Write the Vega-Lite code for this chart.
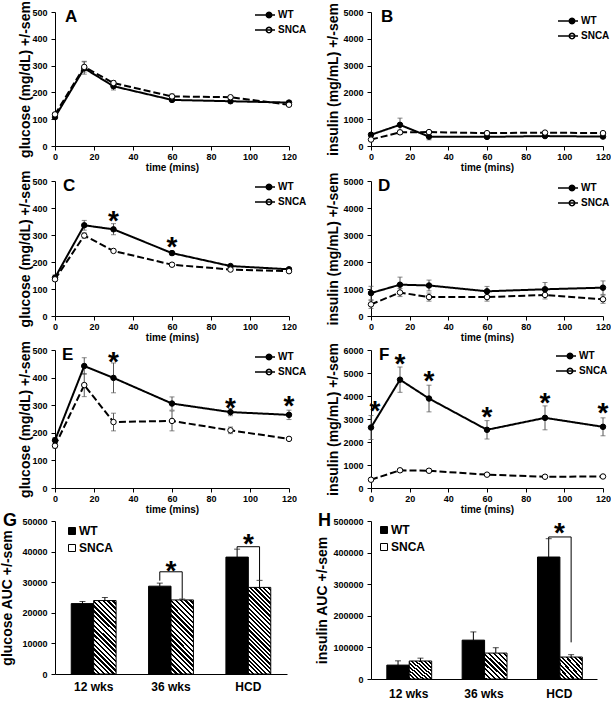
{
"$schema":"https://vega.github.io/schema/vega-lite/v6.json",
"background":"#ffffff",
"padding":{"left":0,"top":0,"right":0,"bottom":0},
"config":{
 "font":"Liberation Sans",
 "view":{"stroke":null},
 "axis":{"domainColor":"#000","tickColor":"#000","labelColor":"#000","titleColor":"#000","labelFont":"Liberation Sans","titleFont":"Liberation Sans","labelFontWeight":"bold","labelFontSize":9,"titleFontWeight":"bold","grid":false,"tickSize":4,"labelPadding":4,"labelFlush":false,"labelOverlap":false,"domainWidth":1,"tickWidth":1},
 "axisY":{"titleFontSize":14},
 "axisX":{"titleFontSize":10,"titlePadding":1,"labelPadding":2},
 "legend":{"labelFont":"Liberation Sans","labelColor":"#000"},
 "title":{"font":"Liberation Sans","color":"#000"}
},
"datasets":{
 "A":[
  {"grp":"WT","t":0,"v":108,"lo":100,"hi":116},{"grp":"WT","t":15,"v":290,"lo":268,"hi":314},{"grp":"WT","t":30,"v":223,"lo":209,"hi":238},{"grp":"WT","t":60,"v":172,"lo":165,"hi":179},{"grp":"WT","t":90,"v":167,"lo":161,"hi":173},{"grp":"WT","t":120,"v":162,"lo":155,"hi":170},
  {"grp":"SNCA","t":0,"v":118,"lo":112,"hi":124},{"grp":"SNCA","t":15,"v":295,"lo":276,"hi":316},{"grp":"SNCA","t":30,"v":235,"lo":226,"hi":244},{"grp":"SNCA","t":60,"v":185,"lo":177,"hi":194},{"grp":"SNCA","t":90,"v":182,"lo":176,"hi":188},{"grp":"SNCA","t":120,"v":154,"lo":148,"hi":160}],
 "B":[
  {"grp":"WT","t":0,"v":420,"lo":360,"hi":480},{"grp":"WT","t":15,"v":790,"lo":540,"hi":1040},{"grp":"WT","t":30,"v":350,"lo":230,"hi":470},{"grp":"WT","t":60,"v":340,"lo":290,"hi":390},{"grp":"WT","t":90,"v":370,"lo":320,"hi":420},{"grp":"WT","t":120,"v":350,"lo":300,"hi":400},
  {"grp":"SNCA","t":0,"v":240,"lo":190,"hi":290},{"grp":"SNCA","t":15,"v":510,"lo":430,"hi":590},{"grp":"SNCA","t":30,"v":520,"lo":470,"hi":570},{"grp":"SNCA","t":60,"v":480,"lo":440,"hi":520},{"grp":"SNCA","t":90,"v":500,"lo":460,"hi":540},{"grp":"SNCA","t":120,"v":480,"lo":440,"hi":520}],
 "C":[
  {"grp":"WT","t":0,"v":142,"lo":132,"hi":152},{"grp":"WT","t":15,"v":336,"lo":318,"hi":354},{"grp":"WT","t":30,"v":321,"lo":301,"hi":342},{"grp":"WT","t":60,"v":233,"lo":225,"hi":241},{"grp":"WT","t":90,"v":185,"lo":179,"hi":191},{"grp":"WT","t":120,"v":173,"lo":167,"hi":179},
  {"grp":"SNCA","t":0,"v":136,"lo":130,"hi":142},{"grp":"SNCA","t":15,"v":298,"lo":288,"hi":308},{"grp":"SNCA","t":30,"v":241,"lo":235,"hi":247},{"grp":"SNCA","t":60,"v":190,"lo":184,"hi":196},{"grp":"SNCA","t":90,"v":172,"lo":167,"hi":177},{"grp":"SNCA","t":120,"v":166,"lo":161,"hi":171}],
 "D":[
  {"grp":"WT","t":0,"v":850,"lo":600,"hi":1100},{"grp":"WT","t":15,"v":1160,"lo":880,"hi":1440},{"grp":"WT","t":30,"v":1130,"lo":930,"hi":1330},{"grp":"WT","t":60,"v":915,"lo":735,"hi":1095},{"grp":"WT","t":90,"v":990,"lo":740,"hi":1240},{"grp":"WT","t":120,"v":1050,"lo":800,"hi":1300},
  {"grp":"SNCA","t":0,"v":430,"lo":280,"hi":580},{"grp":"SNCA","t":15,"v":870,"lo":720,"hi":1020},{"grp":"SNCA","t":30,"v":700,"lo":550,"hi":850},{"grp":"SNCA","t":60,"v":700,"lo":550,"hi":850},{"grp":"SNCA","t":90,"v":780,"lo":630,"hi":930},{"grp":"SNCA","t":120,"v":620,"lo":470,"hi":770}],
 "E":[
  {"grp":"WT","t":0,"v":173,"lo":163,"hi":183},{"grp":"WT","t":15,"v":442,"lo":412,"hi":472},{"grp":"WT","t":30,"v":399,"lo":345,"hi":453},{"grp":"WT","t":60,"v":306,"lo":282,"hi":330},{"grp":"WT","t":90,"v":275,"lo":262,"hi":288},{"grp":"WT","t":120,"v":265,"lo":248,"hi":282},
  {"grp":"SNCA","t":0,"v":153,"lo":145,"hi":161},{"grp":"SNCA","t":15,"v":373,"lo":331,"hi":415},{"grp":"SNCA","t":30,"v":239,"lo":207,"hi":271},{"grp":"SNCA","t":60,"v":243,"lo":207,"hi":279},{"grp":"SNCA","t":90,"v":209,"lo":197,"hi":221},{"grp":"SNCA","t":120,"v":178,"lo":173,"hi":183}],
 "F":[
  {"grp":"WT","t":0,"v":2630,"lo":2110,"hi":3150},{"grp":"WT","t":15,"v":4710,"lo":4160,"hi":5260},{"grp":"WT","t":30,"v":3890,"lo":3310,"hi":4470},{"grp":"WT","t":60,"v":2530,"lo":2130,"hi":2930},{"grp":"WT","t":90,"v":3050,"lo":2530,"hi":3570},{"grp":"WT","t":120,"v":2660,"lo":2270,"hi":3050},
  {"grp":"SNCA","t":0,"v":360,"lo":300,"hi":420},{"grp":"SNCA","t":15,"v":770,"lo":690,"hi":850},{"grp":"SNCA","t":30,"v":750,"lo":670,"hi":830},{"grp":"SNCA","t":60,"v":580,"lo":530,"hi":630},{"grp":"SNCA","t":90,"v":490,"lo":450,"hi":530},{"grp":"SNCA","t":120,"v":500,"lo":460,"hi":540}],
 "sC":[{"t":30,"y":374},{"t":60,"y":277}],
 "sE":[{"t":30,"y":480},{"t":90,"y":312},{"t":120,"y":318}],
 "sF":[{"t":2,"y":3600},{"t":15,"y":5670},{"t":30,"y":4900},{"t":60,"y":3350},{"t":90,"y":3975},{"t":120,"y":3530}],
 "G":[{"cat":"12 wks","grp":"WT","v":23000,"hi":23700},{"cat":"12 wks","grp":"SNCA","v":24000,"hi":25000},{"cat":"36 wks","grp":"WT","v":28700,"hi":29700},{"cat":"36 wks","grp":"SNCA","v":24200,"hi":24500},{"cat":"HCD","grp":"WT","v":38200,"hi":40800},{"cat":"HCD","grp":"SNCA","v":28300,"hi":30600}],
 "H":[{"cat":"12 wks","grp":"WT","v":44000,"hi":57500},{"cat":"12 wks","grp":"SNCA","v":57000,"hi":66000},{"cat":"36 wks","grp":"WT","v":123000,"hi":149000},{"cat":"36 wks","grp":"SNCA","v":82000,"hi":99000},{"cat":"HCD","grp":"WT","v":386000,"hi":444000},{"cat":"HCD","grp":"SNCA","v":69500,"hi":77000}],
 "bG":[{"b":1,"o":1,"cat":"36 wks","grp":"WT","y":30500},{"b":1,"o":2,"cat":"36 wks","grp":"WT","y":33400},{"b":1,"o":3,"cat":"36 wks","grp":"SNCA","y":33400},{"b":1,"o":4,"cat":"36 wks","grp":"SNCA","y":24600},{"b":2,"o":1,"cat":"HCD","grp":"WT","y":40900},{"b":2,"o":2,"cat":"HCD","grp":"WT","y":41600},{"b":2,"o":3,"cat":"HCD","grp":"SNCA","y":41600},{"b":2,"o":4,"cat":"HCD","grp":"SNCA","y":30700}],
 "bH":[{"b":1,"o":1,"cat":"HCD","grp":"WT","y":444000},{"b":1,"o":2,"cat":"HCD","grp":"WT","y":449500},{"b":1,"o":3,"cat":"HCD","grp":"SNCA","y":449500},{"b":1,"o":4,"cat":"HCD","grp":"SNCA","y":116000}],
 "tG":[{"cat":"36 wks","y":35600},{"cat":"HCD","y":44300}],
 "tH":[{"cat":"HCD","y":481000}]
},
"columns":2,
"align":"each",
"spacing":{"row":-2,"column":8},
"resolve":{"scale":{"fill":"independent"},"legend":{"fill":"independent"}},
"concat":[
{
 "width":234,"height":134,"data":{"name":"A"},
 "title":{"text":"A","anchor":"start","frame":"group","dx":10,"offset":-25,"fontSize":17,"fontWeight":"bold","color":"#000"},
 "encoding":{
  "x":{"field":"t","type":"quantitative","scale":{"domain":[0,120],"nice":false},"axis":{"values":[0,20,40,60,80,100,120],"title":"time (mins)"}},
  "y":{"field":"v","type":"quantitative","scale":{"domain":[0,500],"nice":false},"axis":{"values":[0,100,200,300,400,500],"format":"d","labelOverlap":false,"title":"glucose (mg/dL) +/-sem","titlePadding":-1}}},
 "layer":[
  {"mark":{"type":"rule","color":"#555","strokeWidth":1},"encoding":{"y":{"field":"lo","type":"quantitative","axis":{"values":[0,100,200,300,400,500],"format":"d","labelOverlap":false,"title":"glucose (mg/dL) +/-sem","titlePadding":-1}},"y2":{"field":"hi"}}},
  {"mark":{"type":"tick","orient":"horizontal","color":"#555","size":5,"thickness":1},"encoding":{"y":{"field":"lo","type":"quantitative","axis":{"values":[0,100,200,300,400,500],"format":"d","labelOverlap":false,"title":"glucose (mg/dL) +/-sem","titlePadding":-1}}}},
  {"mark":{"type":"tick","orient":"horizontal","color":"#555","size":5,"thickness":1},"encoding":{"y":{"field":"hi","type":"quantitative","axis":{"values":[0,100,200,300,400,500],"format":"d","labelOverlap":false,"title":"glucose (mg/dL) +/-sem","titlePadding":-1}}}},
  {"mark":{"type":"line","color":"#000","strokeWidth":2},"encoding":{"detail":{"field":"grp","type":"nominal"},"strokeDash":{"condition":{"test":"datum.grp==='SNCA'","value":[7,3]},"value":[1,0]}}},
  {"mark":{"type":"point","shape":"circle","size":30,"filled":true,"stroke":"#000","strokeWidth":1,"opacity":1},"encoding":{"fill":{"field":"grp","type":"nominal","scale":{"domain":["WT","SNCA"],"range":["#000","#fff"]},"legend":{"orient":"none","legendX":208,"legendY":-3,"title":null,"padding":0,"symbolSize":100,"symbolStrokeColor":"#000","symbolStrokeWidth":1.5,"symbolOpacity":1,"labelFontSize":10,"labelFontWeight":"bold","labelOffset":3,"rowPadding":3,"encode":{"symbols":{"update":{"stroke":{"value":"#000"},"shape":{"condition":{"test":"datum.value==='SNCA'","value":"M-2.8,0H-2.1M-1.6,0H-0.55M0.55,0H1.2M0.55,0L0.48,0.28L0.28,0.48L0,0.55L-0.28,0.48L-0.48,0.28L-0.55,0L-0.48,-0.28L-0.28,-0.48L0,-0.55L0.28,-0.48L0.48,-0.28Z"},"value":"M-2.8,0H1.2M0.55,0L0.48,0.28L0.28,0.48L0,0.55L-0.28,0.48L-0.48,0.28L-0.55,0L-0.48,-0.28L-0.28,-0.48L0,-0.55L0.28,-0.48L0.48,-0.28Z"}}}}}}}}
 ]
},
{
 "width":232,"height":134,"data":{"name":"B"},
 "title":{"text":"B","anchor":"start","frame":"group","dx":10,"offset":-23,"fontSize":17,"fontWeight":"bold","color":"#000"},
 "encoding":{
  "x":{"field":"t","type":"quantitative","scale":{"domain":[0,120],"nice":false},"axis":{"values":[0,20,40,60,80,100,120],"title":"time (mins)"}},
  "y":{"field":"v","type":"quantitative","scale":{"domain":[0,5000],"nice":false},"axis":{"values":[0,1000,2000,3000,4000,5000],"format":"d","labelOverlap":false,"title":"insulin (mg/mL) +/-sem","titlePadding":2}}},
 "layer":[
  {"mark":{"type":"rule","color":"#555","strokeWidth":1},"encoding":{"y":{"field":"lo","type":"quantitative","axis":{"values":[0,1000,2000,3000,4000,5000],"format":"d","labelOverlap":false,"title":"insulin (mg/mL) +/-sem","titlePadding":2}},"y2":{"field":"hi"}}},
  {"mark":{"type":"tick","orient":"horizontal","color":"#555","size":5,"thickness":1},"encoding":{"y":{"field":"lo","type":"quantitative","axis":{"values":[0,1000,2000,3000,4000,5000],"format":"d","labelOverlap":false,"title":"insulin (mg/mL) +/-sem","titlePadding":2}}}},
  {"mark":{"type":"tick","orient":"horizontal","color":"#555","size":5,"thickness":1},"encoding":{"y":{"field":"hi","type":"quantitative","axis":{"values":[0,1000,2000,3000,4000,5000],"format":"d","labelOverlap":false,"title":"insulin (mg/mL) +/-sem","titlePadding":2}}}},
  {"mark":{"type":"line","color":"#000","strokeWidth":2},"encoding":{"detail":{"field":"grp","type":"nominal"},"strokeDash":{"condition":{"test":"datum.grp==='SNCA'","value":[7,3]},"value":[1,0]}}},
  {"mark":{"type":"point","shape":"circle","size":30,"filled":true,"stroke":"#000","strokeWidth":1,"opacity":1},"encoding":{"fill":{"field":"grp","type":"nominal","scale":{"domain":["WT","SNCA"],"range":["#000","#fff"]},"legend":{"orient":"none","legendX":195,"legendY":3,"title":null,"padding":0,"symbolSize":100,"symbolStrokeColor":"#000","symbolStrokeWidth":1.5,"symbolOpacity":1,"labelFontSize":10,"labelFontWeight":"bold","labelOffset":3,"rowPadding":3,"encode":{"symbols":{"update":{"stroke":{"value":"#000"},"shape":{"condition":{"test":"datum.value==='SNCA'","value":"M-2.8,0H-2.1M-1.6,0H-0.55M0.55,0H1.2M0.55,0L0.48,0.28L0.28,0.48L0,0.55L-0.28,0.48L-0.48,0.28L-0.55,0L-0.48,-0.28L-0.28,-0.48L0,-0.55L0.28,-0.48L0.48,-0.28Z"},"value":"M-2.8,0H1.2M0.55,0L0.48,0.28L0.28,0.48L0,0.55L-0.28,0.48L-0.48,0.28L-0.55,0L-0.48,-0.28L-0.28,-0.48L0,-0.55L0.28,-0.48L0.48,-0.28Z"}}}}}}}}
 ]
},
{
 "width":234,"height":135,"data":{"name":"C"},
 "title":{"text":"C","anchor":"start","frame":"group","dx":8,"offset":-25,"fontSize":17,"fontWeight":"bold","color":"#000"},
 "encoding":{
  "x":{"field":"t","type":"quantitative","scale":{"domain":[0,120],"nice":false},"axis":{"values":[0,20,40,60,80,100,120],"title":"time (mins)"}},
  "y":{"field":"v","type":"quantitative","scale":{"domain":[0,500],"nice":false},"axis":{"values":[0,100,200,300,400,500],"format":"d","labelOverlap":false,"title":"glucose (mg/dL) +/-sem","titlePadding":-1}}},
 "layer":[
  {"mark":{"type":"rule","color":"#555","strokeWidth":1},"encoding":{"y":{"field":"lo","type":"quantitative","axis":{"values":[0,100,200,300,400,500],"format":"d","labelOverlap":false,"title":"glucose (mg/dL) +/-sem","titlePadding":-1}},"y2":{"field":"hi"}}},
  {"mark":{"type":"tick","orient":"horizontal","color":"#555","size":5,"thickness":1},"encoding":{"y":{"field":"lo","type":"quantitative","axis":{"values":[0,100,200,300,400,500],"format":"d","labelOverlap":false,"title":"glucose (mg/dL) +/-sem","titlePadding":-1}}}},
  {"mark":{"type":"tick","orient":"horizontal","color":"#555","size":5,"thickness":1},"encoding":{"y":{"field":"hi","type":"quantitative","axis":{"values":[0,100,200,300,400,500],"format":"d","labelOverlap":false,"title":"glucose (mg/dL) +/-sem","titlePadding":-1}}}},
  {"mark":{"type":"line","color":"#000","strokeWidth":2},"encoding":{"detail":{"field":"grp","type":"nominal"},"strokeDash":{"condition":{"test":"datum.grp==='SNCA'","value":[7,3]},"value":[1,0]}}},
  {"mark":{"type":"point","shape":"circle","size":30,"filled":true,"stroke":"#000","strokeWidth":1,"opacity":1},"encoding":{"fill":{"field":"grp","type":"nominal","scale":{"domain":["WT","SNCA"],"range":["#000","#fff"]},"legend":{"orient":"none","legendX":208,"legendY":0,"title":null,"padding":0,"symbolSize":100,"symbolStrokeColor":"#000","symbolStrokeWidth":1.5,"symbolOpacity":1,"labelFontSize":10,"labelFontWeight":"bold","labelOffset":3,"rowPadding":3,"encode":{"symbols":{"update":{"stroke":{"value":"#000"},"shape":{"condition":{"test":"datum.value==='SNCA'","value":"M-2.8,0H-2.1M-1.6,0H-0.55M0.55,0H1.2M0.55,0L0.48,0.28L0.28,0.48L0,0.55L-0.28,0.48L-0.48,0.28L-0.55,0L-0.48,-0.28L-0.28,-0.48L0,-0.55L0.28,-0.48L0.48,-0.28Z"},"value":"M-2.8,0H1.2M0.55,0L0.48,0.28L0.28,0.48L0,0.55L-0.28,0.48L-0.48,0.28L-0.55,0L-0.48,-0.28L-0.28,-0.48L0,-0.55L0.28,-0.48L0.48,-0.28Z"}}}}}}}},
  {"data":{"name":"sC"},"mark":{"type":"text","text":"*","fontSize":28,"fontWeight":"bold","baseline":"middle","dy":7,"color":"#000"},"encoding":{"y":{"field":"y","type":"quantitative","axis":{"values":[0,100,200,300,400,500],"format":"d","labelOverlap":false,"title":"glucose (mg/dL) +/-sem","titlePadding":-1}}}}
 ]
},
{
 "width":232,"height":135,"data":{"name":"D"},
 "title":{"text":"D","anchor":"start","frame":"group","dx":7,"offset":-23,"fontSize":17,"fontWeight":"bold","color":"#000"},
 "encoding":{
  "x":{"field":"t","type":"quantitative","scale":{"domain":[0,120],"nice":false},"axis":{"values":[0,20,40,60,80,100,120],"title":"time (mins)"}},
  "y":{"field":"v","type":"quantitative","scale":{"domain":[0,5000],"nice":false},"axis":{"values":[0,1000,2000,3000,4000,5000],"format":"d","labelOverlap":false,"title":"insulin (mg/mL) +/-sem","titlePadding":2}}},
 "layer":[
  {"mark":{"type":"rule","color":"#555","strokeWidth":1},"encoding":{"y":{"field":"lo","type":"quantitative","axis":{"values":[0,1000,2000,3000,4000,5000],"format":"d","labelOverlap":false,"title":"insulin (mg/mL) +/-sem","titlePadding":2}},"y2":{"field":"hi"}}},
  {"mark":{"type":"tick","orient":"horizontal","color":"#555","size":5,"thickness":1},"encoding":{"y":{"field":"lo","type":"quantitative","axis":{"values":[0,1000,2000,3000,4000,5000],"format":"d","labelOverlap":false,"title":"insulin (mg/mL) +/-sem","titlePadding":2}}}},
  {"mark":{"type":"tick","orient":"horizontal","color":"#555","size":5,"thickness":1},"encoding":{"y":{"field":"hi","type":"quantitative","axis":{"values":[0,1000,2000,3000,4000,5000],"format":"d","labelOverlap":false,"title":"insulin (mg/mL) +/-sem","titlePadding":2}}}},
  {"mark":{"type":"line","color":"#000","strokeWidth":2},"encoding":{"detail":{"field":"grp","type":"nominal"},"strokeDash":{"condition":{"test":"datum.grp==='SNCA'","value":[7,3]},"value":[1,0]}}},
  {"mark":{"type":"point","shape":"circle","size":30,"filled":true,"stroke":"#000","strokeWidth":1,"opacity":1},"encoding":{"fill":{"field":"grp","type":"nominal","scale":{"domain":["WT","SNCA"],"range":["#000","#fff"]},"legend":{"orient":"none","legendX":195,"legendY":1,"title":null,"padding":0,"symbolSize":100,"symbolStrokeColor":"#000","symbolStrokeWidth":1.5,"symbolOpacity":1,"labelFontSize":10,"labelFontWeight":"bold","labelOffset":3,"rowPadding":3,"encode":{"symbols":{"update":{"stroke":{"value":"#000"},"shape":{"condition":{"test":"datum.value==='SNCA'","value":"M-2.8,0H-2.1M-1.6,0H-0.55M0.55,0H1.2M0.55,0L0.48,0.28L0.28,0.48L0,0.55L-0.28,0.48L-0.48,0.28L-0.55,0L-0.48,-0.28L-0.28,-0.48L0,-0.55L0.28,-0.48L0.48,-0.28Z"},"value":"M-2.8,0H1.2M0.55,0L0.48,0.28L0.28,0.48L0,0.55L-0.28,0.48L-0.48,0.28L-0.55,0L-0.48,-0.28L-0.28,-0.48L0,-0.55L0.28,-0.48L0.48,-0.28Z"}}}}}}}}
 ]
},
{
 "width":234,"height":138,"data":{"name":"E"},
 "title":{"text":"E","anchor":"start","frame":"group","dx":7,"offset":-23,"fontSize":17,"fontWeight":"bold","color":"#000"},
 "encoding":{
  "x":{"field":"t","type":"quantitative","scale":{"domain":[0,120],"nice":false},"axis":{"values":[0,20,40,60,80,100,120],"title":"time (mins)"}},
  "y":{"field":"v","type":"quantitative","scale":{"domain":[0,500],"nice":false},"axis":{"values":[0,100,200,300,400,500],"format":"d","labelOverlap":false,"title":"glucose (mg/dL) +/-sem","titlePadding":-1}}},
 "layer":[
  {"mark":{"type":"rule","color":"#555","strokeWidth":1},"encoding":{"y":{"field":"lo","type":"quantitative","axis":{"values":[0,100,200,300,400,500],"format":"d","labelOverlap":false,"title":"glucose (mg/dL) +/-sem","titlePadding":-1}},"y2":{"field":"hi"}}},
  {"mark":{"type":"tick","orient":"horizontal","color":"#555","size":5,"thickness":1},"encoding":{"y":{"field":"lo","type":"quantitative","axis":{"values":[0,100,200,300,400,500],"format":"d","labelOverlap":false,"title":"glucose (mg/dL) +/-sem","titlePadding":-1}}}},
  {"mark":{"type":"tick","orient":"horizontal","color":"#555","size":5,"thickness":1},"encoding":{"y":{"field":"hi","type":"quantitative","axis":{"values":[0,100,200,300,400,500],"format":"d","labelOverlap":false,"title":"glucose (mg/dL) +/-sem","titlePadding":-1}}}},
  {"mark":{"type":"line","color":"#000","strokeWidth":2},"encoding":{"detail":{"field":"grp","type":"nominal"},"strokeDash":{"condition":{"test":"datum.grp==='SNCA'","value":[7,3]},"value":[1,0]}}},
  {"mark":{"type":"point","shape":"circle","size":30,"filled":true,"stroke":"#000","strokeWidth":1,"opacity":1},"encoding":{"fill":{"field":"grp","type":"nominal","scale":{"domain":["WT","SNCA"],"range":["#000","#fff"]},"legend":{"orient":"none","legendX":208,"legendY":1,"title":null,"padding":0,"symbolSize":100,"symbolStrokeColor":"#000","symbolStrokeWidth":1.5,"symbolOpacity":1,"labelFontSize":10,"labelFontWeight":"bold","labelOffset":3,"rowPadding":3,"encode":{"symbols":{"update":{"stroke":{"value":"#000"},"shape":{"condition":{"test":"datum.value==='SNCA'","value":"M-2.8,0H-2.1M-1.6,0H-0.55M0.55,0H1.2M0.55,0L0.48,0.28L0.28,0.48L0,0.55L-0.28,0.48L-0.48,0.28L-0.55,0L-0.48,-0.28L-0.28,-0.48L0,-0.55L0.28,-0.48L0.48,-0.28Z"},"value":"M-2.8,0H1.2M0.55,0L0.48,0.28L0.28,0.48L0,0.55L-0.28,0.48L-0.48,0.28L-0.55,0L-0.48,-0.28L-0.28,-0.48L0,-0.55L0.28,-0.48L0.48,-0.28Z"}}}}}}}},
  {"data":{"name":"sE"},"mark":{"type":"text","text":"*","fontSize":28,"fontWeight":"bold","baseline":"middle","dy":7,"color":"#000"},"encoding":{"y":{"field":"y","type":"quantitative","axis":{"values":[0,100,200,300,400,500],"format":"d","labelOverlap":false,"title":"glucose (mg/dL) +/-sem","titlePadding":-1}}}}
 ]
},
{
 "width":232,"height":138,"data":{"name":"F"},
 "title":{"text":"F","anchor":"start","frame":"group","dx":8,"offset":-21,"fontSize":17,"fontWeight":"bold","color":"#000"},
 "encoding":{
  "x":{"field":"t","type":"quantitative","scale":{"domain":[0,120],"nice":false},"axis":{"values":[0,20,40,60,80,100,120],"title":"time (mins)"}},
  "y":{"field":"v","type":"quantitative","scale":{"domain":[0,6000],"nice":false},"axis":{"values":[0,1000,2000,3000,4000,5000,6000],"format":"d","labelOverlap":false,"title":"insulin (mg/mL) +/-sem","titlePadding":2}}},
 "layer":[
  {"mark":{"type":"rule","color":"#555","strokeWidth":1},"encoding":{"y":{"field":"lo","type":"quantitative","axis":{"values":[0,1000,2000,3000,4000,5000,6000],"format":"d","labelOverlap":false,"title":"insulin (mg/mL) +/-sem","titlePadding":2}},"y2":{"field":"hi"}}},
  {"mark":{"type":"tick","orient":"horizontal","color":"#555","size":5,"thickness":1},"encoding":{"y":{"field":"lo","type":"quantitative","axis":{"values":[0,1000,2000,3000,4000,5000,6000],"format":"d","labelOverlap":false,"title":"insulin (mg/mL) +/-sem","titlePadding":2}}}},
  {"mark":{"type":"tick","orient":"horizontal","color":"#555","size":5,"thickness":1},"encoding":{"y":{"field":"hi","type":"quantitative","axis":{"values":[0,1000,2000,3000,4000,5000,6000],"format":"d","labelOverlap":false,"title":"insulin (mg/mL) +/-sem","titlePadding":2}}}},
  {"mark":{"type":"line","color":"#000","strokeWidth":2},"encoding":{"detail":{"field":"grp","type":"nominal"},"strokeDash":{"condition":{"test":"datum.grp==='SNCA'","value":[7,3]},"value":[1,0]}}},
  {"mark":{"type":"point","shape":"circle","size":30,"filled":true,"stroke":"#000","strokeWidth":1,"opacity":1},"encoding":{"fill":{"field":"grp","type":"nominal","scale":{"domain":["WT","SNCA"],"range":["#000","#fff"]},"legend":{"orient":"none","legendX":193,"legendY":0,"title":null,"padding":0,"symbolSize":100,"symbolStrokeColor":"#000","symbolStrokeWidth":1.5,"symbolOpacity":1,"labelFontSize":10,"labelFontWeight":"bold","labelOffset":3,"rowPadding":3,"encode":{"symbols":{"update":{"stroke":{"value":"#000"},"shape":{"condition":{"test":"datum.value==='SNCA'","value":"M-2.8,0H-2.1M-1.6,0H-0.55M0.55,0H1.2M0.55,0L0.48,0.28L0.28,0.48L0,0.55L-0.28,0.48L-0.48,0.28L-0.55,0L-0.48,-0.28L-0.28,-0.48L0,-0.55L0.28,-0.48L0.48,-0.28Z"},"value":"M-2.8,0H1.2M0.55,0L0.48,0.28L0.28,0.48L0,0.55L-0.28,0.48L-0.48,0.28L-0.55,0L-0.48,-0.28L-0.28,-0.48L0,-0.55L0.28,-0.48L0.48,-0.28Z"}}}}}}}},
  {"data":{"name":"sF"},"mark":{"type":"text","text":"*","fontSize":28,"fontWeight":"bold","baseline":"middle","dy":7,"color":"#000"},"encoding":{"y":{"field":"y","type":"quantitative","axis":{"values":[0,1000,2000,3000,4000,5000,6000],"format":"d","labelOverlap":false,"title":"insulin (mg/mL) +/-sem","titlePadding":2}}}}
 ]
},
{
 "width":232,"height":153,"data":{"name":"G"},
 "title":{"text":"G","anchor":"start","frame":"bounds","dx":2,"fontSize":18,"fontWeight":"bold","offset":-13,"color":"#000"},
 "encoding":{
  "x":{"field":"cat","type":"nominal","sort":["12 wks","36 wks","HCD"],"scale":{"paddingInner":0.42,"paddingOuter":0.21},"axis":{"title":null,"labelAngle":0,"labelFontSize":12,"tickSize":0,"labelPadding":7}},
  "y":{"field":"v","type":"quantitative","scale":{"domain":[0,50000],"nice":false},"axis":{"values":[0,10000,20000,30000,40000,50000],"format":"d","labelOverlap":false,"title":"glucose AUC +/-sem","titlePadding":7}}},
 "layer":[
  {"mark":{"type":"bar","stroke":"#000","strokeWidth":1},"encoding":{
    "xOffset":{"field":"grp","type":"nominal","sort":["WT","SNCA"],"scale":{"paddingInner":0,"paddingOuter":0}},
    "fill":{"field":"grp","type":"nominal","scale":{"domain":["WT","SNCA"],"range":["#000","#fff"]},
      "condition":[
       {"test":"datum.grp==='SNCA' && datum.cat==='HCD'","value":{"gradient":"linear","x1":0,"y1":1,"x2":0.3055,"y2":-0.18,"stops":[
{"offset":0,"color":"#000"},{"offset":0.02,"color":"#000"},{"offset":0.02,"color":"#fff"},{"offset":0.04,"color":"#fff"},
{"offset":0.04,"color":"#000"},{"offset":0.06,"color":"#000"},{"offset":0.06,"color":"#fff"},{"offset":0.08,"color":"#fff"},
{"offset":0.08,"color":"#000"},{"offset":0.1,"color":"#000"},{"offset":0.1,"color":"#fff"},{"offset":0.12,"color":"#fff"},
{"offset":0.12,"color":"#000"},{"offset":0.14,"color":"#000"},{"offset":0.14,"color":"#fff"},{"offset":0.16,"color":"#fff"},
{"offset":0.16,"color":"#000"},{"offset":0.18,"color":"#000"},{"offset":0.18,"color":"#fff"},{"offset":0.2,"color":"#fff"},
{"offset":0.2,"color":"#000"},{"offset":0.22,"color":"#000"},{"offset":0.22,"color":"#fff"},{"offset":0.24,"color":"#fff"},
{"offset":0.24,"color":"#000"},{"offset":0.26,"color":"#000"},{"offset":0.26,"color":"#fff"},{"offset":0.28,"color":"#fff"},
{"offset":0.28,"color":"#000"},{"offset":0.3,"color":"#000"},{"offset":0.3,"color":"#fff"},{"offset":0.32,"color":"#fff"},
{"offset":0.32,"color":"#000"},{"offset":0.34,"color":"#000"},{"offset":0.34,"color":"#fff"},{"offset":0.36,"color":"#fff"},
{"offset":0.36,"color":"#000"},{"offset":0.38,"color":"#000"},{"offset":0.38,"color":"#fff"},{"offset":0.4,"color":"#fff"},
{"offset":0.4,"color":"#000"},{"offset":0.42,"color":"#000"},{"offset":0.42,"color":"#fff"},{"offset":0.44,"color":"#fff"},
{"offset":0.44,"color":"#000"},{"offset":0.46,"color":"#000"},{"offset":0.46,"color":"#fff"},{"offset":0.48,"color":"#fff"},
{"offset":0.48,"color":"#000"},{"offset":0.5,"color":"#000"},{"offset":0.5,"color":"#fff"},{"offset":0.52,"color":"#fff"},
{"offset":0.52,"color":"#000"},{"offset":0.54,"color":"#000"},{"offset":0.54,"color":"#fff"},{"offset":0.56,"color":"#fff"},
{"offset":0.56,"color":"#000"},{"offset":0.58,"color":"#000"},{"offset":0.58,"color":"#fff"},{"offset":0.6,"color":"#fff"},
{"offset":0.6,"color":"#000"},{"offset":0.62,"color":"#000"},{"offset":0.62,"color":"#fff"},{"offset":0.64,"color":"#fff"},
{"offset":0.64,"color":"#000"},{"offset":0.66,"color":"#000"},{"offset":0.66,"color":"#fff"},{"offset":0.68,"color":"#fff"},
{"offset":0.68,"color":"#000"},{"offset":0.7,"color":"#000"},{"offset":0.7,"color":"#fff"},{"offset":0.72,"color":"#fff"},
{"offset":0.72,"color":"#000"},{"offset":0.74,"color":"#000"},{"offset":0.74,"color":"#fff"},{"offset":0.76,"color":"#fff"},
{"offset":0.76,"color":"#000"},{"offset":0.78,"color":"#000"},{"offset":0.78,"color":"#fff"},{"offset":0.8,"color":"#fff"},
{"offset":0.8,"color":"#000"},{"offset":0.82,"color":"#000"},{"offset":0.82,"color":"#fff"},{"offset":0.84,"color":"#fff"},
{"offset":0.84,"color":"#000"},{"offset":0.86,"color":"#000"},{"offset":0.86,"color":"#fff"},{"offset":0.88,"color":"#fff"},
{"offset":0.88,"color":"#000"},{"offset":0.9,"color":"#000"},{"offset":0.9,"color":"#fff"},{"offset":0.92,"color":"#fff"},
{"offset":0.92,"color":"#000"},{"offset":0.94,"color":"#000"},{"offset":0.94,"color":"#fff"},{"offset":0.96,"color":"#fff"},
{"offset":0.96,"color":"#000"},{"offset":0.98,"color":"#000"},{"offset":0.98,"color":"#fff"},{"offset":1,"color":"#fff"}]}},
       {"test":"datum.grp==='SNCA'","value":{"gradient":"linear","x1":0,"y1":1,"x2":0.363,"y2":-0.194,"stops":[
{"offset":0,"color":"#000"},{"offset":0.025,"color":"#000"},{"offset":0.025,"color":"#fff"},{"offset":0.05,"color":"#fff"},
{"offset":0.05,"color":"#000"},{"offset":0.075,"color":"#000"},{"offset":0.075,"color":"#fff"},{"offset":0.1,"color":"#fff"},
{"offset":0.1,"color":"#000"},{"offset":0.125,"color":"#000"},{"offset":0.125,"color":"#fff"},{"offset":0.15,"color":"#fff"},
{"offset":0.15,"color":"#000"},{"offset":0.175,"color":"#000"},{"offset":0.175,"color":"#fff"},{"offset":0.2,"color":"#fff"},
{"offset":0.2,"color":"#000"},{"offset":0.225,"color":"#000"},{"offset":0.225,"color":"#fff"},{"offset":0.25,"color":"#fff"},
{"offset":0.25,"color":"#000"},{"offset":0.275,"color":"#000"},{"offset":0.275,"color":"#fff"},{"offset":0.3,"color":"#fff"},
{"offset":0.3,"color":"#000"},{"offset":0.325,"color":"#000"},{"offset":0.325,"color":"#fff"},{"offset":0.35,"color":"#fff"},
{"offset":0.35,"color":"#000"},{"offset":0.375,"color":"#000"},{"offset":0.375,"color":"#fff"},{"offset":0.4,"color":"#fff"},
{"offset":0.4,"color":"#000"},{"offset":0.425,"color":"#000"},{"offset":0.425,"color":"#fff"},{"offset":0.45,"color":"#fff"},
{"offset":0.45,"color":"#000"},{"offset":0.475,"color":"#000"},{"offset":0.475,"color":"#fff"},{"offset":0.5,"color":"#fff"},
{"offset":0.5,"color":"#000"},{"offset":0.525,"color":"#000"},{"offset":0.525,"color":"#fff"},{"offset":0.55,"color":"#fff"},
{"offset":0.55,"color":"#000"},{"offset":0.575,"color":"#000"},{"offset":0.575,"color":"#fff"},{"offset":0.6,"color":"#fff"},
{"offset":0.6,"color":"#000"},{"offset":0.625,"color":"#000"},{"offset":0.625,"color":"#fff"},{"offset":0.65,"color":"#fff"},
{"offset":0.65,"color":"#000"},{"offset":0.675,"color":"#000"},{"offset":0.675,"color":"#fff"},{"offset":0.7,"color":"#fff"},
{"offset":0.7,"color":"#000"},{"offset":0.725,"color":"#000"},{"offset":0.725,"color":"#fff"},{"offset":0.75,"color":"#fff"},
{"offset":0.75,"color":"#000"},{"offset":0.775,"color":"#000"},{"offset":0.775,"color":"#fff"},{"offset":0.8,"color":"#fff"},
{"offset":0.8,"color":"#000"},{"offset":0.825,"color":"#000"},{"offset":0.825,"color":"#fff"},{"offset":0.85,"color":"#fff"},
{"offset":0.85,"color":"#000"},{"offset":0.875,"color":"#000"},{"offset":0.875,"color":"#fff"},{"offset":0.9,"color":"#fff"},
{"offset":0.9,"color":"#000"},{"offset":0.925,"color":"#000"},{"offset":0.925,"color":"#fff"},{"offset":0.95,"color":"#fff"},
{"offset":0.95,"color":"#000"},{"offset":0.975,"color":"#000"},{"offset":0.975,"color":"#fff"},{"offset":1,"color":"#fff"}]}}
      ],
      "legend":{"orient":"none","legendX":11,"legendY":4,"title":null,"padding":0,"symbolSize":49,"symbolStrokeColor":"#000","symbolStrokeWidth":1,"symbolOpacity":1,"labelFontSize":12,"labelFontWeight":"bold","labelOffset":1,"rowPadding":5,
        "encode":{"symbols":{"update":{"stroke":{"value":"#000"},"shape":{"condition":{"test":"datum.value==='SNCA'","value":"M-1,-1H1V1H-1ZM-1,-1L1,1M0,-1L1,0M-1,0L0,1"},"value":"M-1,-1H1V1H-1Z"}}}}}}}},
  {"mark":{"type":"rule","color":"#000","strokeWidth":1},"encoding":{"xOffset":{"field":"grp","type":"nominal","sort":["WT","SNCA"],"scale":{"paddingInner":0,"paddingOuter":0}},"y2":{"field":"hi"}}},
  {"mark":{"type":"tick","orient":"horizontal","color":"#000","size":6,"thickness":1},"encoding":{"xOffset":{"field":"grp","type":"nominal","sort":["WT","SNCA"],"scale":{"paddingInner":0,"paddingOuter":0}},"y":{"field":"hi","type":"quantitative","axis":{"values":[0,10000,20000,30000,40000,50000],"format":"d","labelOverlap":false,"title":"glucose AUC +/-sem","titlePadding":7}}}},
  {"data":{"name":"bG"},"mark":{"type":"line","color":"#000","strokeWidth":1},"encoding":{"xOffset":{"field":"grp","type":"nominal","sort":["WT","SNCA"],"scale":{"paddingInner":0,"paddingOuter":0}},"y":{"field":"y","type":"quantitative","axis":{"values":[0,10000,20000,30000,40000,50000],"format":"d","labelOverlap":false,"title":"glucose AUC +/-sem","titlePadding":7}},"detail":{"field":"b","type":"nominal"},"order":{"field":"o","type":"quantitative"}}},
  {"data":{"name":"tG"},"mark":{"type":"text","text":"*","fontSize":28,"fontWeight":"bold","baseline":"middle","dy":7,"color":"#000"},"encoding":{"y":{"field":"y","type":"quantitative","axis":{"values":[0,10000,20000,30000,40000,50000],"format":"d","labelOverlap":false,"title":"glucose AUC +/-sem","titlePadding":7}}}}
 ]
},
{
 "width":226,"height":158,"data":{"name":"H"},
 "title":{"text":"H","anchor":"start","frame":"bounds","dx":2,"fontSize":18,"fontWeight":"bold","offset":-13,"color":"#000"},
 "encoding":{
  "x":{"field":"cat","type":"nominal","sort":["12 wks","36 wks","HCD"],"scale":{"paddingInner":0.42,"paddingOuter":0.21},"axis":{"title":null,"labelAngle":0,"labelFontSize":12,"tickSize":0,"labelPadding":9}},
  "y":{"field":"v","type":"quantitative","scale":{"domain":[0,500000],"nice":false},"axis":{"values":[0,100000,200000,300000,400000,500000],"format":"d","labelOverlap":false,"title":"insulin AUC +/-sem","titlePadding":3}}},
 "layer":[
  {"mark":{"type":"bar","stroke":"#000","strokeWidth":1},"encoding":{
    "xOffset":{"field":"grp","type":"nominal","sort":["WT","SNCA"],"scale":{"paddingInner":0,"paddingOuter":0}},
    "fill":{"field":"grp","type":"nominal","scale":{"domain":["WT","SNCA"],"range":["#000","#fff"]},
      "condition":[
       {"test":"datum.grp==='SNCA' && datum.cat==='36 wks'","value":{"gradient":"linear","x1":0,"y1":1,"x2":0.9085,"y2":-0.077,"stops":[
{"offset":0,"color":"#000"},{"offset":0.05,"color":"#000"},{"offset":0.05,"color":"#fff"},{"offset":0.1,"color":"#fff"},
{"offset":0.1,"color":"#000"},{"offset":0.15,"color":"#000"},{"offset":0.15,"color":"#fff"},{"offset":0.2,"color":"#fff"},
{"offset":0.2,"color":"#000"},{"offset":0.25,"color":"#000"},{"offset":0.25,"color":"#fff"},{"offset":0.3,"color":"#fff"},
{"offset":0.3,"color":"#000"},{"offset":0.35,"color":"#000"},{"offset":0.35,"color":"#fff"},{"offset":0.4,"color":"#fff"},
{"offset":0.4,"color":"#000"},{"offset":0.45,"color":"#000"},{"offset":0.45,"color":"#fff"},{"offset":0.5,"color":"#fff"},
{"offset":0.5,"color":"#000"},{"offset":0.55,"color":"#000"},{"offset":0.55,"color":"#fff"},{"offset":0.6,"color":"#fff"},
{"offset":0.6,"color":"#000"},{"offset":0.65,"color":"#000"},{"offset":0.65,"color":"#fff"},{"offset":0.7,"color":"#fff"},
{"offset":0.7,"color":"#000"},{"offset":0.75,"color":"#000"},{"offset":0.75,"color":"#fff"},{"offset":0.8,"color":"#fff"},
{"offset":0.8,"color":"#000"},{"offset":0.85,"color":"#000"},{"offset":0.85,"color":"#fff"},{"offset":0.9,"color":"#fff"},
{"offset":0.9,"color":"#000"},{"offset":0.95,"color":"#000"},{"offset":0.95,"color":"#fff"},{"offset":1,"color":"#fff"}]}},
       {"test":"datum.grp==='SNCA'","value":{"gradient":"linear","x1":0,"y1":1,"x2":1.045,"y2":0.049,"stops":[
{"offset":0,"color":"#000"},{"offset":0.05,"color":"#000"},{"offset":0.05,"color":"#fff"},{"offset":0.1,"color":"#fff"},
{"offset":0.1,"color":"#000"},{"offset":0.15,"color":"#000"},{"offset":0.15,"color":"#fff"},{"offset":0.2,"color":"#fff"},
{"offset":0.2,"color":"#000"},{"offset":0.25,"color":"#000"},{"offset":0.25,"color":"#fff"},{"offset":0.3,"color":"#fff"},
{"offset":0.3,"color":"#000"},{"offset":0.35,"color":"#000"},{"offset":0.35,"color":"#fff"},{"offset":0.4,"color":"#fff"},
{"offset":0.4,"color":"#000"},{"offset":0.45,"color":"#000"},{"offset":0.45,"color":"#fff"},{"offset":0.5,"color":"#fff"},
{"offset":0.5,"color":"#000"},{"offset":0.55,"color":"#000"},{"offset":0.55,"color":"#fff"},{"offset":0.6,"color":"#fff"},
{"offset":0.6,"color":"#000"},{"offset":0.65,"color":"#000"},{"offset":0.65,"color":"#fff"},{"offset":0.7,"color":"#fff"},
{"offset":0.7,"color":"#000"},{"offset":0.75,"color":"#000"},{"offset":0.75,"color":"#fff"},{"offset":0.8,"color":"#fff"},
{"offset":0.8,"color":"#000"},{"offset":0.85,"color":"#000"},{"offset":0.85,"color":"#fff"},{"offset":0.9,"color":"#fff"},
{"offset":0.9,"color":"#000"},{"offset":0.95,"color":"#000"},{"offset":0.95,"color":"#fff"},{"offset":1,"color":"#fff"}]}}
      ],
      "legend":{"orient":"none","legendX":7,"legendY":3,"title":null,"padding":0,"symbolSize":49,"symbolStrokeColor":"#000","symbolStrokeWidth":1,"symbolOpacity":1,"labelFontSize":12,"labelFontWeight":"bold","labelOffset":1,"rowPadding":5,
        "encode":{"symbols":{"update":{"stroke":{"value":"#000"},"shape":{"condition":{"test":"datum.value==='SNCA'","value":"M-1,-1H1V1H-1ZM-1,-1L1,1M0,-1L1,0M-1,0L0,1"},"value":"M-1,-1H1V1H-1Z"}}}}}}}},
  {"mark":{"type":"rule","color":"#000","strokeWidth":1},"encoding":{"xOffset":{"field":"grp","type":"nominal","sort":["WT","SNCA"],"scale":{"paddingInner":0,"paddingOuter":0}},"y2":{"field":"hi"}}},
  {"mark":{"type":"tick","orient":"horizontal","color":"#000","size":6,"thickness":1},"encoding":{"xOffset":{"field":"grp","type":"nominal","sort":["WT","SNCA"],"scale":{"paddingInner":0,"paddingOuter":0}},"y":{"field":"hi","type":"quantitative","axis":{"values":[0,100000,200000,300000,400000,500000],"format":"d","labelOverlap":false,"title":"insulin AUC +/-sem","titlePadding":3}}}},
  {"data":{"name":"bH"},"mark":{"type":"line","color":"#000","strokeWidth":1},"encoding":{"xOffset":{"field":"grp","type":"nominal","sort":["WT","SNCA"],"scale":{"paddingInner":0,"paddingOuter":0}},"y":{"field":"y","type":"quantitative","axis":{"values":[0,100000,200000,300000,400000,500000],"format":"d","labelOverlap":false,"title":"insulin AUC +/-sem","titlePadding":3}},"detail":{"field":"b","type":"nominal"},"order":{"field":"o","type":"quantitative"}}},
  {"data":{"name":"tH"},"mark":{"type":"text","text":"*","fontSize":28,"fontWeight":"bold","baseline":"middle","dy":7,"color":"#000"},"encoding":{"y":{"field":"y","type":"quantitative","axis":{"values":[0,100000,200000,300000,400000,500000],"format":"d","labelOverlap":false,"title":"insulin AUC +/-sem","titlePadding":3}}}}
 ]
}
]
}
